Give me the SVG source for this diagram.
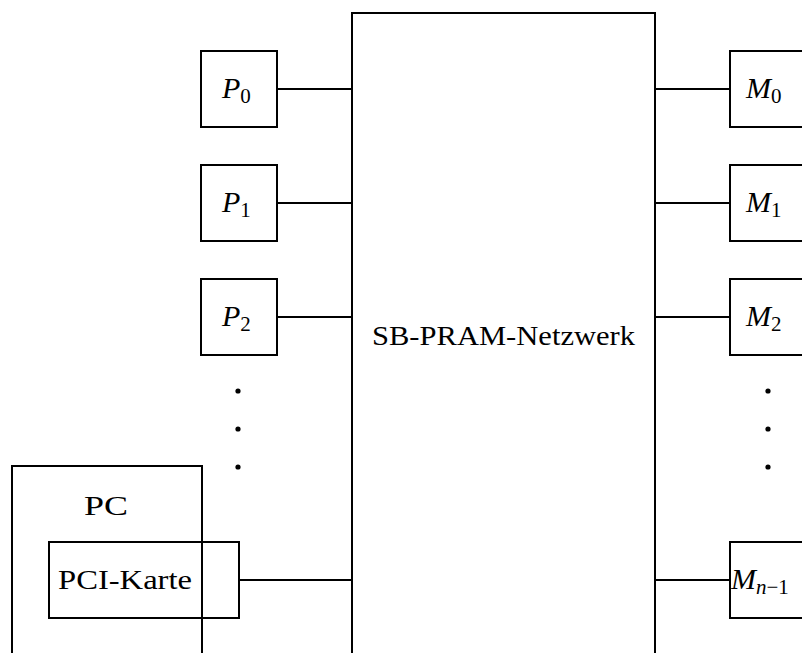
<svg xmlns="http://www.w3.org/2000/svg" width="802" height="653" viewBox="0 0 802 653">
  <style>
    .box { fill: none; stroke: #000; stroke-width: 2; }
    .wire { stroke: #000; stroke-width: 2; fill: none; }
    .lbl { font-family: "Liberation Serif", "DejaVu Serif", serif; font-size: 27px; fill: #000; }
    .var { font-style: italic; font-size: 30px; }
    .sub { font-size: 21px; font-style: normal; }
    .subvar { font-style: italic; font-size: 21px; }
  </style>
  <rect width="802" height="653" fill="#fff"/>

  <!-- interconnection network -->
  <g id="netzwerk">
    <path class="box" d="M352,660 V13 H655 V660"/>
    <text class="lbl" x="372" y="345" textLength="263" lengthAdjust="spacingAndGlyphs">SB-PRAM-Netzwerk</text>
  </g>

  <!-- processors -->
  <g id="p0">
    <rect class="box" x="201" y="51" width="76" height="76"/>
    <text class="lbl" x="222" y="98"><tspan class="var">P</tspan><tspan class="sub" dy="5">0</tspan></text>
  </g>
  <g id="p1">
    <rect class="box" x="201" y="165" width="76" height="76"/>
    <text class="lbl" x="222" y="212"><tspan class="var">P</tspan><tspan class="sub" dy="5">1</tspan></text>
  </g>
  <g id="p2">
    <rect class="box" x="201" y="279" width="76" height="76"/>
    <text class="lbl" x="222" y="326"><tspan class="var">P</tspan><tspan class="sub" dy="5">2</tspan></text>
  </g>
  <g id="p-dots">
    <circle cx="238" cy="391" r="2.6"/>
    <circle cx="238" cy="429" r="2.6"/>
    <circle cx="238" cy="467" r="2.6"/>
  </g>

  <!-- host PC with interface card -->
  <g id="pc">
    <path class="box" d="M12,660 V466 H202 V660"/>
    <text class="lbl" x="106" y="515" text-anchor="middle" textLength="44" lengthAdjust="spacingAndGlyphs">PC</text>
  </g>
  <g id="pci-karte">
    <rect class="box" x="49" y="542" width="190" height="76"/>
    <text class="lbl" x="58" y="589" textLength="134" lengthAdjust="spacingAndGlyphs">PCI-Karte</text>
  </g>

  <!-- memory modules -->
  <g id="m0">
    <rect class="box" x="730" y="51" width="76" height="76"/>
    <text class="lbl" x="746" y="98"><tspan class="var">M</tspan><tspan class="sub" dy="5">0</tspan></text>
  </g>
  <g id="m1">
    <rect class="box" x="730" y="165" width="76" height="76"/>
    <text class="lbl" x="746" y="212"><tspan class="var">M</tspan><tspan class="sub" dy="5">1</tspan></text>
  </g>
  <g id="m2">
    <rect class="box" x="730" y="279" width="76" height="76"/>
    <text class="lbl" x="746" y="326"><tspan class="var">M</tspan><tspan class="sub" dy="5">2</tspan></text>
  </g>
  <g id="m-dots">
    <circle cx="768" cy="391" r="2.6"/>
    <circle cx="768" cy="429" r="2.6"/>
    <circle cx="768" cy="467" r="2.6"/>
  </g>
  <g id="mn1">
    <rect class="box" x="730" y="542" width="76" height="76"/>
    <text class="lbl" x="731" y="589"><tspan class="var">M</tspan><tspan class="subvar" dy="5">n</tspan><tspan class="sub">−1</tspan></text>
  </g>

  <!-- links to the network -->
  <g id="connectors">
    <line class="wire" x1="277" y1="89" x2="352" y2="89"/>
    <line class="wire" x1="277" y1="203" x2="352" y2="203"/>
    <line class="wire" x1="277" y1="317" x2="352" y2="317"/>
    <line class="wire" x1="239" y1="580" x2="352" y2="580"/>
    <line class="wire" x1="655" y1="89" x2="730" y2="89"/>
    <line class="wire" x1="655" y1="203" x2="730" y2="203"/>
    <line class="wire" x1="655" y1="317" x2="730" y2="317"/>
    <line class="wire" x1="655" y1="580" x2="730" y2="580"/>
  </g>
</svg>
